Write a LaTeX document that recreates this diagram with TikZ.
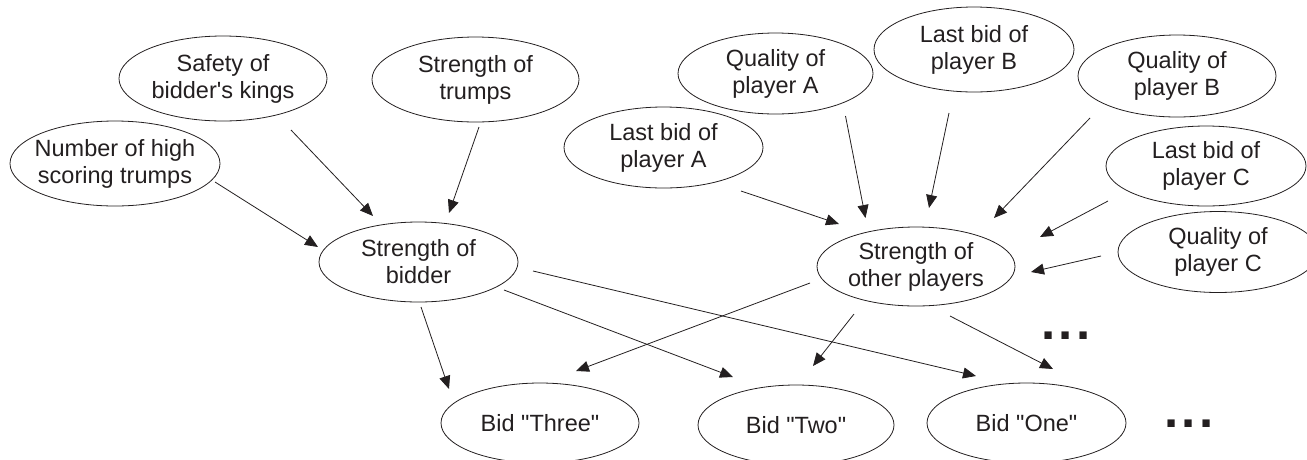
\documentclass[tikz,border=0pt]{standalone}
\usepackage{fontspec}
\newfontfamily\lib{Liberation Sans}
\usetikzlibrary{arrows.meta,calc,shapes.geometric}
\definecolor{ink}{RGB}{35,31,32}
\begin{document}
\begin{tikzpicture}[x=1pt,y=-1pt,
  ell/.style={ellipse, draw=ink, line width=0.8pt, inner sep=-15pt, outer sep=0pt,
    align=center, text=ink, font=\lib\fontsize{23.5}{27}\selectfont},
  arr/.style={draw=ink, line width=0.8pt, -{Triangle[length=13pt,width=11pt]}},
  dots/.style={inner sep=0pt, text=ink, font=\lib\fontsize{51}{51}\selectfont\bfseries}]
\useasboundingbox (0,0) rectangle (1307,459);
% cause nodes
\node[ell, minimum width=210pt, minimum height=85pt] (num) at (115,163.5) {Number of high\\scoring trumps};
\node[ell, minimum width=208pt, minimum height=85pt] (safety) at (223,78.5) {Safety of\\bidder's kings};
\node[ell, minimum width=207pt, minimum height=85pt] (trumps) at (475.5,79.5) {Strength of\\trumps};
\node[ell, minimum width=199pt, minimum height=80pt] (bidder) at (418.5,262) {Strength of\\bidder};
\node[ell, minimum width=199pt, minimum height=81pt] (lastA) at (663.5,147.5) {Last bid of\\player A};
\node[ell, minimum width=195pt, minimum height=81pt] (qualA) at (775.5,73.5) {Quality of\\player A};
\node[ell, minimum width=200pt, minimum height=85pt] (lastB) at (974,49.5) {Last bid of\\player B};
\node[ell, minimum width=198pt, minimum height=82pt] (qualB) at (1177,76) {Quality of\\player B};
\node[ell, minimum width=200pt, minimum height=80pt] (lastC) at (1206,166) {Last bid of\\player C};
\node[ell, minimum width=200pt, minimum height=81pt] (qualC) at (1218,252) {Quality of\\player C};
\node[ell, minimum width=198pt, minimum height=79pt] (other) at (916,266.5) {Strength of\\other players};
% bid nodes
\node[ell, minimum width=198pt, minimum height=80pt] (three) at (540,423) {Bid "Three"};
\node[ell, minimum width=196pt, minimum height=80pt] (two) at (796,425) {Bid "Two"};
\node[ell, minimum width=199pt, minimum height=80pt] (one) at (1026.5,423) {Bid "One"};
\node[dots] (moreA) at (1066,336) {.\kern3.3pt.\kern3.3pt.};
\node[dots] (moreB) at (1189,424) {.\kern3.3pt.\kern3.3pt.};
% arrows into bidder
\draw[arr] ($(num)+(100,18.5)$) -- ($(bidder)+(-100.5,-15)$);
\draw[arr] ($(safety)+(68,51.5)$) -- ($(bidder)+(-45.5,-46)$);
\draw[arr] ($(trumps)+(3.5,47.5)$) -- ($(bidder)+(30.5,-49)$);
% arrows into other players
\draw[arr] ($(lastA)+(77.5,43.5)$) -- ($(other)+(-77,-42.5)$);
\draw[arr] ($(qualA)+(70,42.5)$) -- ($(other)+(-50.5,-48.5)$);
\draw[arr] ($(lastB)+(-25,63.5)$) -- ($(other)+(13,-58.5)$);
\draw[arr] ($(qualB)+(-87,42)$) -- ($(other)+(78,-48.5)$);
\draw[arr] ($(lastC)+(-98,35)$) -- ($(other)+(124,-29.5)$);
\draw[arr] ($(qualC)+(-117,4)$) -- ($(other)+(115,5.5)$);
% arrows to bids
\draw[arr] ($(bidder)+(2.5,45)$) -- ($(three)+(-91,-34)$);
\draw[arr] ($(bidder)+(85.5,28)$) -- ($(two)+(-63,-48)$);
\draw[arr] ($(bidder)+(114.5,9)$) -- ($(one)+(-50.5,-47)$);
\draw[arr] ($(other)+(-106,16.5)$) -- ($(three)+(36,-52)$);
\draw[arr] ($(other)+(-62,47.5)$) -- ($(two)+(17,-59)$);
\draw[arr] ($(other)+(34,49.5)$) -- ($(one)+(26.5,-54)$);
\end{tikzpicture}
\end{document}
